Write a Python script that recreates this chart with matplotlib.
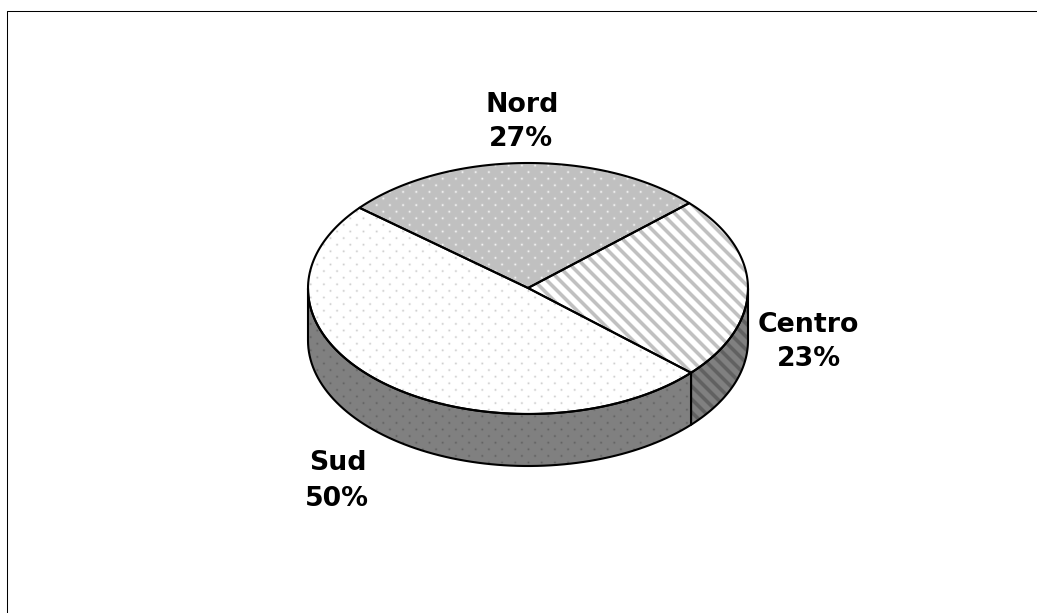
import numpy as np
from matplotlib import pyplot as plt
from matplotlib.patches import Polygon

W, H = 1037, 613

categories = ['Nord', 'Centro', 'Sud']
shares = [27, 23, 50]

# ellipse of the pie top, in pixels
cx, cy, rx, ry = 528, 288.5, 220, 125.5
depth = 52
start = 140.6


def warp(a):
    # perspective, the front of the pie looks a bit bigger
    return a - 1.7 * (1 - np.sin(np.radians(a)))


def ell(a):
    a = np.radians(a)
    return np.column_stack([cx + rx * np.cos(a), cy - ry * np.sin(a)])


yy, xx = np.mgrid[0:H, 0:W]


def dots(base, mark, pitch=13.2, size=1.1):
    # staggered dot pattern
    u = xx / pitch
    v = yy / pitch
    d1 = (u - np.round(u)) ** 2 + (v - np.round(v)) ** 2
    d2 = (u - 0.5 - np.round(u - 0.5)) ** 2 + (v - 0.5 - np.round(v - 0.5)) ** 2
    d = np.minimum(d1, d2) * pitch ** 2
    return base + (mark - base) * np.exp(-d / size)


def stripes(base, mark, pitch=13.0):
    dist = np.abs(((xx - yy) / pitch) % 1 - 0.5) * pitch
    return base + (mark - base) * np.clip((3.6 - dist) / 2.0, 0, 1)


def fill(ax, pts, tex):
    patch = Polygon(pts, closed=True, facecolor='none', edgecolor='black',
                    linewidth=1.5, joinstyle='round', zorder=3)
    ax.add_patch(patch)
    im = ax.imshow(tex, cmap='gray', vmin=0, vmax=255, extent=(0, W, H, 0),
                   interpolation='bilinear', zorder=2, aspect='auto')
    im.set_clip_path(patch)


fig = plt.figure(figsize=(W / 100, H / 100), dpi=100)
ax = fig.add_axes([0, 0, 1, 1])

top_tex = {'Nord': dots(192, 245), 'Centro': stripes(255, 192), 'Sud': dots(255, 205)}
side_tex = {'Centro': stripes(128, 98), 'Sud': dots(128, 98)}

a = start
for name, share in zip(categories, shares):
    b = a - share * 3.6
    # side wall, only the front half of the pie shows
    lo, hi = max(warp(b), -180), min(warp(a), 0)
    if name in side_tex and lo < hi:
        arc = ell(np.linspace(lo, hi, 80))
        low = arc + [0, depth]
        fill(ax, np.vstack([arc, low[::-1]]), side_tex[name])
    arc = ell(np.linspace(warp(a), warp(b), 120))
    fill(ax, np.vstack([[cx, 288], arc]), top_tex[name])
    a = b

lab = dict(fontsize=19.3, fontweight='bold', family='DejaVu Sans', ha='center', va='center', color='black')
ax.text(522, 104.5, categories[0], **lab)
ax.text(521, 139.5, f'{shares[0]}%', **lab)
ax.text(808, 324.5, categories[1], **lab)
ax.text(809, 359.5, f'{shares[1]}%', **lab)
ax.text(338, 463.5, categories[2], **lab)
ax.text(337, 498.5, f'{shares[2]}%', **lab)

# open frame, top and left only
ax.plot([6.5, 6.5, W], [H, 10.5, 10.5], color='black', linewidth=0.75, zorder=4)

ax.set_xlim(0, W)
ax.set_ylim(H, 0)
ax.axis('off')
fig.savefig('out.png', dpi=100)
